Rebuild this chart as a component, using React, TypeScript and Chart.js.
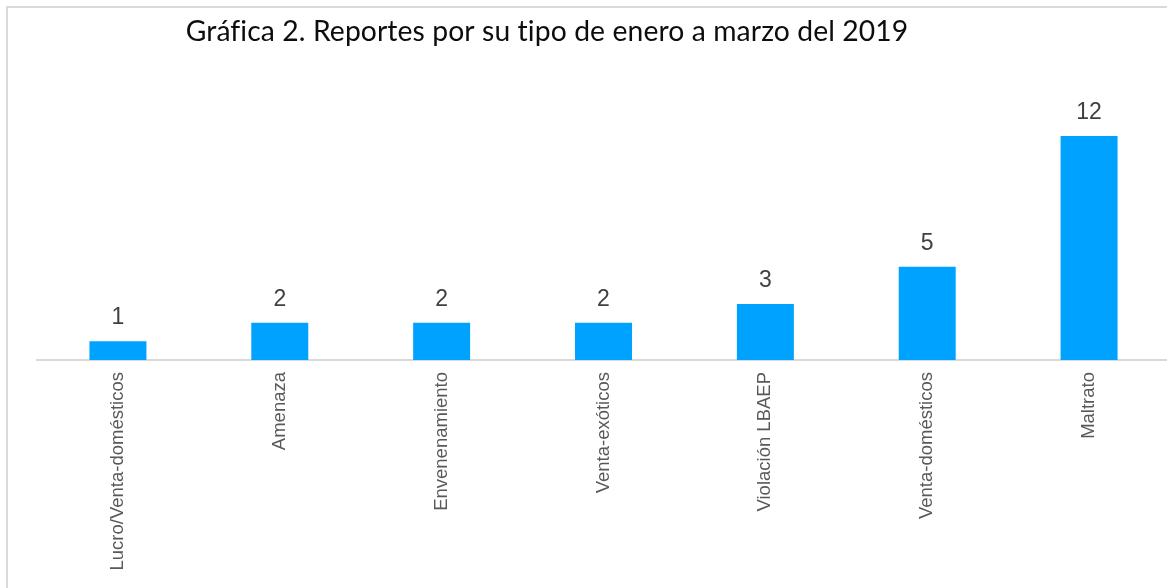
import React, { useEffect, useRef } from "react";
import { Chart, registerables } from "chart.js";

Chart.register(...registerables);

const TITLE = "Gráfica 2. Reportes por su tipo de enero a marzo del 2019";
const categories = [
  "Lucro/Venta-domésticos",
  "Amenaza",
  "Envenenamiento",
  "Venta-exóticos",
  "Violación LBAEP",
  "Venta-domésticos",
  "Maltrato",
];
const reportes = [1, 2, 2, 2, 3, 5, 12];

const W = 1170;
const H = 588;

const framePlugin = {
  id: "frame",
  beforeDraw(chart: any) {
    const ctx = chart.ctx;
    ctx.save();
    ctx.fillStyle = "#ffffff";
    ctx.fillRect(0, 0, chart.width, chart.height);
    ctx.strokeStyle = "#d9d9d9";
    ctx.lineWidth = 2;
    ctx.beginPath();
    ctx.moveTo(7, chart.height + 5);
    ctx.lineTo(7, 7);
    ctx.lineTo(chart.width + 5, 7);
    ctx.stroke();
    ctx.restore();
  },
};

const titlePlugin = {
  id: "customTitle",
  afterDraw(chart: any) {
    const ctx = chart.ctx;
    ctx.save();
    try {
      (ctx as any).letterSpacing = "0.1px";
    } catch (e) {}
    ctx.font = "100px Lato";
    const w100 = ctx.measureText(TITLE).width;
    const size = (719 / w100) * 100;
    ctx.font = `${size}px Lato`;
    ctx.fillStyle = "#0d0d0d";
    ctx.textAlign = "center";
    ctx.textBaseline = "alphabetic";
    ctx.fillText(TITLE, 547, 41);
    ctx.restore();
  },
};

const valueLabels = {
  id: "valueLabels",
  afterDatasetsDraw(chart: any) {
    const ctx = chart.ctx;
    const meta = chart.getDatasetMeta(0);
    ctx.save();
    ctx.font = "23px 'Liberation Sans', Arial, sans-serif";
    ctx.fillStyle = "#404040";
    ctx.textAlign = "center";
    ctx.textBaseline = "alphabetic";
    meta.data.forEach((bar: any, i: number) => {
      ctx.fillText(String(reportes[i]), bar.x, bar.y - 17);
    });
    ctx.restore();
  },
};

export default function App() {
  const ref = useRef<HTMLCanvasElement>(null);
  useEffect(() => {
    if (!ref.current) return;
    const chart = new Chart(ref.current, {
      type: "bar",
      data: {
        labels: categories,
        datasets: [
          {
            label: "Reportes",
            data: reportes,
            backgroundColor: "#00a2ff",
            borderWidth: 0,
            categoryPercentage: 1,
            barPercentage: 0.352,
          },
        ],
      },
      options: {
        responsive: false,
        animation: false,
        devicePixelRatio: 1,
        layout: { padding: { left: 37, right: 0, top: 98.6, bottom: 0 } },
        plugins: {
          legend: { display: false },
          title: { display: false },
          tooltip: { enabled: false },
        },
        scales: {
          x: {
            grid: { display: false, drawTicks: false },
            border: { display: true, color: "#d9d9d9", width: 2 },
            ticks: {
              minRotation: 90,
              maxRotation: 90,
              padding: 12,
              color: "#595959",
              font: { family: "'Liberation Sans', Arial, sans-serif", size: 18.5 },
            },
            afterFit(scale: any) {
              scale.height = H - 360;
            },
          },
          y: {
            display: false,
            min: 0,
            max: 14,
          },
        },
      },
      plugins: [framePlugin, valueLabels, titlePlugin],
    });
    return () => chart.destroy();
  }, []);
  return (
    <div
      style={{
        position: "absolute",
        left: 0,
        top: 0,
        width: 1167,
        height: 588,
        overflow: "hidden",
        background: "#fff",
      }}
    >
      <canvas ref={ref} width={W} height={H} style={{ display: "block", width: W, height: H }} />
    </div>
  );
}
